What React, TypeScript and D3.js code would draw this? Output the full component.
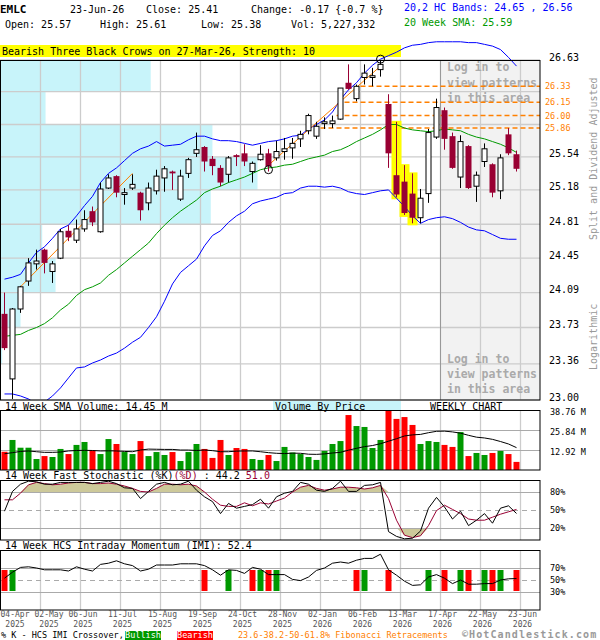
import React from "react";
import * as d3 from "d3";

// ---------- DATA ----------
const opens = [
  23.87, 23.21, 23.92, 24.21, 24.39, 24.54, 24.31, 24.45, 24.74, 24.64,
  24.76, 24.95, 24.73, 25.2, 25.33, 25.13, 25.2, 25.15, 25.04, 25.17,
  25.31, 25.38, 25.08, 25.36, 25.58, 25.65, 25.52, 25.42, 25.35, 25.56,
  25.58, 25.38, 25.51, 25.58, 25.53, 25.6, 25.64, 25.74, 25.83, 25.77,
  25.91, 25.91, 25.96, 26.37, 26.19, 26.43, 26.43, 26.52, 26.13, 25.34,
  25.27, 25.14, 24.88, 25.14, 25.76, 26.06, 25.77, 25.32, 25.66, 25.22,
  25.49, 25.46, 25.17, 25.79, 25.57,
];
const highs = [
  24.09, 23.93, 24.16, 24.45, 24.54, 24.55, 24.42, 24.76, 24.8, 24.86,
  24.96, 25.0, 25.26, 25.35, 25.34, 25.2, 25.35, 25.16, 25.26, 25.4,
  25.44, 25.39, 25.4, 25.53, 25.81, 25.66, 25.55, 25.45, 25.55, 25.57,
  25.68, 25.49, 25.67, 25.63, 25.72, 25.75, 25.75, 25.83, 26.02, 25.93,
  25.98, 26.0, 26.31, 26.58, 26.35, 26.58, 26.54, 26.63, 26.24, 25.93,
  25.45, 25.36, 25.19, 25.85, 26.19, 26.09, 25.81, 25.78, 25.67, 25.38,
  25.69, 25.47, 25.57, 25.86, 25.61,
];
const lows = [
  23.5, 23.01, 23.88, 24.16, 24.33, 24.29, 24.19, 24.44, 24.63, 24.61,
  24.73, 24.79, 24.72, 25.19, 25.1, 25.02, 25.18, 24.85, 24.96, 25.13,
  25.16, 25.18, 25.06, 25.31, 25.54, 25.38, 25.34, 25.22, 25.26, 25.44,
  25.44, 25.26, 25.5, 25.38, 25.5, 25.51, 25.52, 25.65, 25.79, 25.74,
  25.85, 25.86, 25.95, 26.29, 26.16, 26.35, 26.33, 26.44, 25.42, 25.1,
  24.91, 24.82, 24.82, 25.04, 25.74, 25.62, 25.41, 25.2, 25.19, 25.05,
  25.43, 25.1, 25.08, 25.56, 25.38,
];
const closes = [
  23.52, 23.92, 24.15, 24.4, 24.42, 24.4, 24.39, 24.73, 24.67, 24.76,
  24.86, 24.83, 25.19, 25.31, 25.15, 25.15, 25.24, 24.96, 25.2, 25.33,
  25.41, 25.36, 25.33, 25.51, 25.62, 25.49, 25.44, 25.26, 25.53, 25.54,
  25.49, 25.47, 25.57, 25.44, 25.6, 25.63, 25.69, 25.79, 26.0, 25.88,
  25.93, 25.94, 26.31, 26.3, 26.33, 26.48, 26.45, 26.58, 25.58, 25.13,
  24.93, 24.88, 25.09, 25.81, 26.09, 25.74, 25.42, 25.71, 25.2, 25.34,
  25.63, 25.15, 25.53, 25.58, 25.41,
];
const upperBand = [
  24.23, 24.25, 24.28, 24.4, 24.51, 24.57, 24.66, 24.76, 24.8, 24.9,
  25.01, 25.11, 25.26, 25.36, 25.42, 25.5, 25.58, 25.63, 25.66, 25.71,
  25.66, 25.67, 25.68, 25.73, 25.77, 25.77, 25.74, 25.72, 25.72, 25.71,
  25.69, 25.67, 25.69, 25.71, 25.72, 25.74, 25.77, 25.78, 25.85, 25.9,
  25.95, 26.04, 26.18, 26.29, 26.37, 26.48, 26.57, 26.64, 26.68, 26.72,
  26.77, 26.8, 26.81, 26.83, 26.84, 26.84, 26.84, 26.84, 26.83, 26.83,
  26.81, 26.79, 26.75, 26.66, 26.56,
];
const lowerBand = [
  23.06, 23.06, 23.04, 23.01, 22.96, 22.98, 23.04, 23.12, 23.22, 23.32,
  23.33, 23.37, 23.4, 23.44, 23.47, 23.52, 23.58, 23.63, 23.73, 23.84,
  24.0, 24.18, 24.3, 24.37, 24.44, 24.58, 24.69, 24.74, 24.83, 24.9,
  24.95, 25.03, 25.06, 25.08, 25.1, 25.14, 25.15, 25.2, 25.22, 25.22,
  25.21, 25.22, 25.2, 25.16, 25.14, 25.13, 25.15, 25.17, 25.18, 25.09,
  25.0, 24.9, 24.82, 24.86, 24.88, 24.89, 24.87, 24.83, 24.78, 24.75,
  24.74, 24.7, 24.66, 24.65, 24.65,
];
const sma20 = [
  23.64, 23.65, 23.66, 23.7, 23.73, 23.77, 23.83, 23.91, 23.97, 24.06,
  24.12, 24.15, 24.19, 24.27, 24.33, 24.4, 24.47, 24.54, 24.61, 24.71,
  24.8, 24.88, 24.95, 25.01, 25.07, 25.15, 25.19, 25.22, 25.26, 25.29,
  25.32, 25.36, 25.4, 25.42, 25.43, 25.45, 25.46, 25.49, 25.52, 25.54,
  25.56, 25.6, 25.62, 25.66, 25.71, 25.75, 25.79, 25.84, 25.9, 25.9,
  25.86, 25.84, 25.83, 25.82, 25.83, 25.85, 25.84, 25.83, 25.79, 25.76,
  25.74, 25.71, 25.68, 25.64, 25.59,
];
const volumes = [
  11.8, 19.4, 14.4, 14.4, 7.1, 9.0, 8.4, 13.6, 10.3, 16.2,
  18.1, 12.7, 10.3, 20.0, 16.8, 11.6, 10.3, 18.7, 9.0, 11.6,
  9.7, 11.6, 5.8, 11.6, 16.8, 13.6, 7.8, 19.4, 9.7, 14.2,
  13.6, 7.1, 6.5, 9.7, 5.8, 14.9, 11.3, 10.3, 8.4, 6.5,
  12.3, 16.8, 18.7, 35.5, 28.4, 27.8, 14.2, 19.4, 38.3, 33.0,
  34.2, 29.1, 16.8, 18.7, 18.1, 16.2, 14.9, 24.5, 9.0, 11.0,
  9.7, 11.0, 12.3, 10.3, 5.23,
];
const volumeSma = [
  10.5, 11.2, 12.0, 12.3, 11.8, 11.4, 11.4, 11.6, 12.3, 12.6,
  12.7, 12.6, 12.3, 12.4, 12.3, 12.0, 11.8, 12.9, 13.5, 13.4,
  13.3, 13.3, 12.9, 12.9, 12.6, 12.9, 12.5, 11.8, 11.8, 12.2,
  12.3, 12.3, 11.8, 11.2, 10.8, 10.6, 10.9, 10.8, 10.2, 10.1,
  10.4, 11.0, 11.4, 12.8, 14.0, 15.1, 15.8, 17.0, 18.6, 20.2,
  22.0, 22.7, 23.0, 24.1, 25.0, 25.1, 24.6, 23.8, 22.4, 21.2,
  20.7, 19.8, 18.4, 16.8, 14.45,
];
const stochK = [
  48, 81, 93, 98, 97, 93, 93, 96, 96, 96,
  96, 94, 96, 98, 94, 87, 86, 69, 81, 93,
  96, 92, 93, 98, 83, 72, 64, 44, 61, 53,
  56, 59, 68, 53, 72, 78, 81, 96, 93, 83,
  81, 86, 98, 81, 81, 91, 92, 96, 14, 6,
  2, 3, 15, 53, 71, 55, 35, 48, 24, 33,
  44, 28, 53, 57, 44.2,
];
const stochD = [
  67, 67, 78, 92, 96, 94, 92, 93, 95, 96,
  96, 94, 94, 95, 93, 90, 86, 81, 80, 86,
  93, 93, 92, 93, 90, 80, 68, 58, 56, 56,
  62, 57, 62, 60, 65, 70, 80, 88, 91, 86,
  83, 85, 88, 88, 87, 85, 87, 91, 69, 33,
  8, 4, 7, 24, 49, 58, 51, 44, 35, 33,
  33, 38, 43, 47, 51.0,
];
const imi = [
  53, 63, 71, 72, 70, 67, 67, 67, 65, 72,
  68, 65, 76, 78, 82, 77, 74, 65, 68, 75,
  75, 75, 77, 77, 77, 74, 67, 58, 67, 66,
  61, 71, 68, 59, 59, 59, 51, 49, 55, 66,
  70, 78, 80, 78, 83, 86, 86, 93, 67, 58,
  48, 41, 42, 55, 59, 53, 44, 50, 43, 43,
  44, 44, 50, 52, 52.4,
];
const imiBearishIdx = [0, 25, 31, 33, 44, 48, 55, 58, 61, 64];
const imiBullishIdx = [1, 28, 32, 34, 45, 53, 57, 60, 62];

const priceGrid = [26.63, 26.27, 25.9, 25.54, 25.18, 24.81, 24.45, 24.09, 23.73, 23.36, 23.0];
const priceLabels = [26.63, 25.54, 25.18, 24.81, 24.45, 24.09, 23.73, 23.36, 23.0];
const volumeByPrice = [90, 27, 127, 154, 126, 25, 33, 12, 1, 0];
const fibLevels = [26.33, 26.15, 26.0, 25.86];
const fibStartIdx = [45, 43, 42, 40];
const patternIdx = [49, 50, 51];
const trendLines = [
  { from: 2, fromPrice: 24.15, to: 16, toPrice: 25.36 },
  { from: 33, fromPrice: 25.45, to: 47, toPrice: 26.56 },
];
const trendCircles = [
  { idx: 33, price: 25.4 },
  { idx: 47, price: 26.64 },
];
const volumeTicks = [12.92, 25.84, 38.76];
const stochTicks = [20, 50, 80];
const imiTicks = [30, 50, 70];
const dateIdx = [0, 4, 9, 14, 19, 24, 29, 34, 39, 44, 49, 54, 59, 64];
const dateDays = ["04-Apr", "02-May", "06-Jun", "11-Jul", "15-Aug", "19-Sep", "24-Oct", "28-Nov", "02-Jan", "06-Feb", "13-Mar", "17-Apr", "22-May", "23-Jun"];
const dateYears = ["2025", "2025", "2025", "2025", "2025", "2025", "2025", "2025", "2026", "2026", "2026", "2026", "2026", "2026"];

// ---------- STYLE ----------
const FONT = "'DejaVu Sans Mono', 'Liberation Mono', monospace";
const BEAR = "#990033";
const GREEN = "#009900";
const RED = "#ff0000";
const ORANGE = "#ff8000";
const BLUE = "#0000ff";
const GRID = "#cccccc";
const PGRID = "#aaaaaa";

export default function App() {
  const n = closes.length;
  const L = 0.5;
  const R = 540;
  const x = d3.scaleLinear().domain([0, n - 1]).range([4.5, 516.5]);
  const y = d3.scaleLog().domain([23.0, 26.63]).range([400, 60]);
  const yV = d3.scaleLinear().domain([0, 38.76]).range([470, 410]);
  const yS = d3.scaleLinear().domain([0, 100]).range([540, 480]);
  const yI = d3.scaleLinear().domain([0, 100]).range([610, 550]);
  const vbpW = d3.scaleLinear().domain([0, d3.max(volumeByPrice) as number]).range([0, 257]);

  const priceLine = (arr: number[]) =>
    d3.line<number>().x((_, i) => x(i)).y((d) => y(d))(arr) || "";
  const panelLine = (arr: number[], sc: d3.ScaleLinear<number, number>) =>
    d3.line<number>().x((_, i) => x(i)).y((d) => sc(d))(arr) || "";

  const upperFill =
    d3.area<number>().x((_, i) => x(i)).y0(yS(80)).y1((d) => yS(Math.max(d, 80)))(stochD) || "";
  const lowerFill =
    d3.area<number>().x((_, i) => x(i)).y0(yS(20)).y1((d) => yS(Math.min(d, 20)))(stochD) || "";

  const gridIdx = dateIdx.filter((d) => d > 0);
  const gridX = gridIdx.map((d) => Math.round(x(d) + 3.5) + 0.5);

  const dateCenters: number[] = [];
  dateIdx.forEach((d, k) => {
    let c = x(d) + 6;
    c = k === 0 ? Math.max(c, 15) : Math.max(c, dateCenters[k - 1] + 34);
    dateCenters.push(c);
  });

  const last = n - 1;
  const change = closes[last] - closes[last - 1];
  const changePct = (change / closes[last - 1]) * 100;

  const vLines = (top: number, bottom: number, key: string) =>
    gridX.map((gx, k) => (
      <line key={key + k} x1={gx} x2={gx} y1={top} y2={bottom} stroke={GRID} strokeWidth={1.3} />
    ));

  return (
    <svg
      width={600}
      height={640}
      style={{ position: "absolute", left: 0, top: 0, background: "#fff" }}
      fontFamily={FONT}
    >
      <defs>
        <clipPath id="mainClip">
          <rect x={0} y={0} width={R} height={400} />
        </clipPath>
        <clipPath id="plotClip">
          <rect x={0} y={60} width={R} height={340} />
        </clipPath>
      </defs>
      <rect x={0} y={0} width={600} height={640} fill="#fff" />

      {/* Header */}
      <g fontSize={10} fill="#000">
        <text x={0} y={13} fontWeight="bold" fontSize={11}>EMLC</text>
        <text x={70} y={13}>23-Jun-26</text>
        <text x={146} y={13}>{`Close: ${closes[last].toFixed(2)}`}</text>
        <text x={251} y={13}>{`Change: ${change.toFixed(2)} {${changePct.toFixed(1)} %}`}</text>
        <text x={404} y={11} fill={BLUE}>{`20,2 HC Bands: ${lowerBand[last].toFixed(2)} , ${upperBand[last].toFixed(2)}`}</text>
        <text x={5} y={28}>{`Open: ${opens[last].toFixed(2)}`}</text>
        <text x={100} y={28}>{`High: ${highs[last].toFixed(2)}`}</text>
        <text x={201} y={28}>{`Low: ${lows[last].toFixed(2)}`}</text>
        <text x={291} y={28}>Vol: 5,227,332</text>
        <text x={404} y={26} fill={GREEN}>{`20 Week SMA: ${sma20[last].toFixed(2)}`}</text>
      </g>

      {/* Main price panel */}
      <rect x={440} y={60} width={100} height={340} fill="#f2f2f2" />
      {volumeByPrice.map((v, j) => {
        const top = y(priceGrid[j]);
        const bot = y(priceGrid[j + 1]);
        return <rect key={"vbp" + j} x={L} y={top} width={vbpW(v)} height={bot - top} fill="#c8f4fa" />;
      })}
      {priceGrid.map((p, k) => (
        <line key={"pg" + k} x1={0} x2={R} y1={y(p)} y2={y(p)} stroke={GRID} strokeWidth={1.3} />
      ))}
      {vLines(60, 400, "mv")}
      <line x1={440.5} x2={440.5} y1={60} y2={400} stroke="#999" strokeWidth={1} />

      <g fontSize={11.5} fontWeight="bold" fill="#aaaaaa">
        <text x={447} y={71}>Log in to</text>
        <text x={447} y={86.5}>view patterns</text>
        <text x={447} y={101.5}>in this area</text>
        <text x={447} y={362.5}>Log in to</text>
        <text x={447} y={378}>view patterns</text>
        <text x={447} y={393}>in this area</text>
      </g>

      {fibLevels.map((f, k) => (
        <line
          key={"fib" + k}
          x1={x(fibStartIdx[k]) - 4}
          x2={R}
          y1={y(f)}
          y2={y(f)}
          stroke={ORANGE}
          strokeWidth={1.5}
          strokeDasharray="5,3"
        />
      ))}

      {patternIdx.map((i) => (
        <rect
          key={"pat" + i}
          x={x(i) - 5}
          y={y(highs[i]) - 1}
          width={10}
          height={y(lows[i]) - y(highs[i]) + 3}
          fill="#ffff00"
        />
      ))}

      {/* Banner */}
      <rect x={0} y={45} width={401} height={12} fill="#ffff00" />
      <text x={2} y={55} fontSize={10}>Bearish Three Black Crows on 27-Mar-26, Strength: 10</text>

      <g clipPath="url(#mainClip)" fill="none">
        <path d={priceLine(sma20)} stroke={GREEN} strokeWidth={1} />
        <path d={priceLine(upperBand)} stroke={BLUE} strokeWidth={1} />
        <path d={priceLine(lowerBand)} stroke={BLUE} strokeWidth={1} />
      </g>

      {trendLines.map((t, k) => (
        <line
          key={"tl" + k}
          x1={x(t.from)}
          y1={y(t.fromPrice)}
          x2={x(t.to)}
          y2={y(t.toPrice)}
          stroke={ORANGE}
          strokeWidth={1}
        />
      ))}

      {/* Candles */}
      <g clipPath="url(#plotClip)">
        {closes.map((c, i) => {
          const o = opens[i];
          const bull = c >= o;
          const cx = x(i);
          const top = y(Math.max(o, c));
          const bot = y(Math.min(o, c));
          const h = Math.max(1, bot - top);
          return (
            <g key={"c" + i}>
              <line x1={cx} x2={cx} y1={y(highs[i])} y2={y(lows[i])} stroke={bull ? "#000" : BEAR} strokeWidth={1} />
              {bull ? (
                <rect x={cx - 2.5} y={top} width={5} height={h} fill="#fff" stroke="#000" strokeWidth={1} />
              ) : (
                <rect x={cx - 3} y={top} width={6} height={h} fill={BEAR} />
              )}
            </g>
          );
        })}
      </g>
      {trendCircles.map((t, k) => (
        <circle key={"tc" + k} cx={x(t.idx)} cy={y(t.price)} r={4} fill="none" stroke="#000" strokeWidth={1} />
      ))}

      <rect x={L} y={60.5} width={R - L} height={339.5} fill="none" stroke="#000" strokeWidth={1} />

      {/* Right price axis */}
      <g fontSize={10} fill="#000">
        {priceLabels.map((p) => (
          <text key={"pl" + p} x={549} y={y(p) + 0.5}>
            {p.toFixed(2)}
          </text>
        ))}
      </g>
      <g fontSize={8.5} fill={ORANGE}>
        {fibLevels.map((f) => (
          <text key={"fl" + f} x={545} y={y(f) + 3}>
            {f.toFixed(2)}
          </text>
        ))}
      </g>
      <g fontSize={10} fill="#999">
        <text transform="translate(597,240) rotate(-90)">Split and Dividend Adjusted</text>
        <text transform="translate(597,370) rotate(-90)">Logarithmic</text>
      </g>

      {/* Labels between panels */}
      <rect x={273} y={401} width={128} height={9} fill="#c8f4fa" />
      <text x={275} y={409.5} fontSize={10}>Volume By Price</text>
      <text x={430} y={409.5} fontSize={10}>WEEKLY CHART</text>
      <text x={5} y={409.5} fontSize={10}>{`14 Week SMA Volume: ${volumeSma[last].toFixed(2)} M`}</text>

      {/* Volume panel */}
      {vLines(410, 470, "vv")}
      {volumeTicks.slice(0, 2).map((t) => (
        <line key={"vt" + t} x1={0} x2={R} y1={Math.round(yV(t)) + 0.5} y2={Math.round(yV(t)) + 0.5} stroke={PGRID} strokeWidth={1} />
      ))}
      {volumes.map((v, i) => (
        <rect
          key={"v" + i}
          x={x(i) - 3}
          y={yV(v)}
          width={6}
          height={470 - yV(v)}
          fill={closes[i] >= opens[i] ? GREEN : RED}
        />
      ))}
      <path d={panelLine(volumeSma, yV)} fill="none" stroke="#000" strokeWidth={1} />
      <rect x={L} y={410.5} width={R - L} height={59.5} fill="none" stroke="#000" strokeWidth={1} />
      <g fontSize={8.5}>
        {volumeTicks.map((t) => (
          <text key={"vl" + t} x={550} y={yV(t) + 4.5}>
            {`${t.toFixed(2)} M`}
          </text>
        ))}
      </g>

      {/* Stochastic panel */}
      <text x={5} y={479} fontSize={10}>
        <tspan>14 Week Fast Stochastic (%K)</tspan>
        <tspan fill={BEAR}>(%D)</tspan>
        <tspan>{` : ${stochK[last].toFixed(1)} `}</tspan>
        <tspan fill={BEAR}>{stochD[last].toFixed(1)}</tspan>
      </text>
      {vLines(480, 540, "sv")}
      <path d={upperFill} fill="#cdc99a" />
      <path d={lowerFill} fill="#cdc99a" />
      {stochTicks.map((t) => (
        <line
          key={"st" + t}
          x1={0}
          x2={R}
          y1={yS(t) + 0.5}
          y2={yS(t) + 0.5}
          stroke={PGRID}
          strokeWidth={1}
          strokeDasharray={t === 50 ? "5,4" : undefined}
        />
      ))}
      <path d={panelLine(stochD, yS)} fill="none" stroke={BEAR} strokeWidth={1} />
      <path d={panelLine(stochK, yS)} fill="none" stroke="#000" strokeWidth={1} />
      <rect x={L} y={480.5} width={R - L} height={59.5} fill="none" stroke="#000" strokeWidth={1} />
      <g fontSize={8.5}>
        {stochTicks.map((t) => (
          <text key={"sl" + t} x={550} y={yS(t) + 3}>
            {`${t}%`}
          </text>
        ))}
      </g>

      {/* IMI panel */}
      <text x={5} y={548.5} fontSize={10}>{`14 Week HCS Intraday Momentum (IMI): ${imi[last].toFixed(1)}`}</text>
      {vLines(550, 610, "iv")}
      {imiTicks.map((t) => (
        <line
          key={"it" + t}
          x1={0}
          x2={R}
          y1={yI(t) + 0.5}
          y2={yI(t) + 0.5}
          stroke={PGRID}
          strokeWidth={1}
          strokeDasharray={t === 50 ? "5,4" : undefined}
        />
      ))}
      {imiBearishIdx.map((i) => (
        <rect key={"ib" + i} x={x(i) - 3} y={570} width={6} height={21} fill={RED} />
      ))}
      {imiBullishIdx.map((i) => (
        <rect key={"ig" + i} x={x(i) - 3} y={570} width={6} height={21} fill={GREEN} />
      ))}
      <path d={panelLine(imi, yI)} fill="none" stroke="#000" strokeWidth={1} />
      <rect x={L} y={550.5} width={R - L} height={59.5} fill="none" stroke="#000" strokeWidth={1} />
      <g fontSize={8.5}>
        {imiTicks.map((t) => (
          <text key={"il" + t} x={550} y={yI(t) + 3}>
            {`${t}%`}
          </text>
        ))}
      </g>

      {/* Date axis */}
      <g fontSize={8} textAnchor="middle" fill="#555">
        {dateIdx.map((d, k) => (
          <g key={"d" + k}>
            <text x={dateCenters[k]} y={617}>{dateDays[k]}</text>
            <text x={dateCenters[k]} y={626.5}>{dateYears[k]}</text>
          </g>
        ))}
      </g>

      {/* Legend row */}
      <text x={1} y={637.5} fontSize={8.5}>% K - HCS IMI Crossover,</text>
      <rect x={125} y={631} width={36} height={9} fill={GREEN} />
      <text x={143} y={637.5} fontSize={8.5} fill="#fff" textAnchor="middle">Bullish</text>
      <rect x={177} y={631} width={36} height={9} fill={RED} />
      <text x={195} y={637.5} fontSize={8.5} fill="#fff" textAnchor="middle">Bearish</text>
      <text x={238} y={637.5} fontSize={8.5} fill={ORANGE}>23.6-38.2-50-61.8% Fibonacci Retracements</text>
      <text x={462} y={637.6} fontSize={10} fontWeight="bold" fill="#999" letterSpacing={1.1}>©HotCandlestick.com</text>
    </svg>
  );
}
